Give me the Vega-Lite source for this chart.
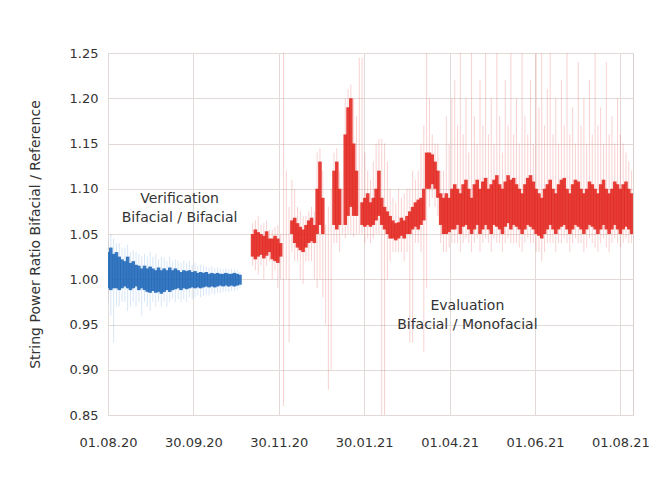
{
"$schema":"https://vega.github.io/schema/vega-lite/v6.json",
"width":525,"height":362,
"autosize":{"type":"none"},
"padding":{"left":108,"top":53,"right":32,"bottom":64},
"background":"white",
"config":{"view":{"stroke":"#d8d0cc","strokeWidth":1},"font":"DejaVu Sans",
 "axisX":{"format":"%d.%m.%y","formatType":"utc","labelOverlap":false,"labelFlush":false,"labelBound":false,"grid":true,"gridColor":"#e2dad6","domain":false,"ticks":false,"labelPadding":21,"labelFontSize":13,"labelColor":"#333333","labelFont":"DejaVu Sans"},
 "axisY":{"format":".2f","labelOverlap":false,"grid":true,"gridColor":"#e2dad6","domain":false,"ticks":false,"labelPadding":10,"labelFontSize":13,"labelColor":"#333333","labelFont":"DejaVu Sans","titleFontSize":14,"titleFontWeight":"normal","titleColor":"#333333","titleFont":"DejaVu Sans","titlePadding":27}
},
"datasets":{
"pts":[
{"d":"2020-08-01","s":"Verification","lo":0.99,"hi":1.03,"slo":0.975,"shi":1.045},
{"d":"2020-08-03","s":"Verification","lo":0.988,"hi":1.035,"slo":0.96,"shi":1.05},
{"d":"2020-08-05","s":"Verification","lo":0.99,"hi":1.028,"slo":0.93,"shi":1.045},
{"d":"2020-08-07","s":"Verification","lo":0.99,"hi":1.03,"slo":0.97,"shi":1.04},
{"d":"2020-08-09","s":"Verification","lo":0.988,"hi":1.025,"slo":0.97,"shi":1.04},
{"d":"2020-08-11","s":"Verification","lo":0.99,"hi":1.022,"slo":0.975,"shi":1.035},
{"d":"2020-08-13","s":"Verification","lo":0.992,"hi":1.02,"slo":0.975,"shi":1.035},
{"d":"2020-08-15","s":"Verification","lo":0.99,"hi":1.025,"slo":0.965,"shi":1.038},
{"d":"2020-08-17","s":"Verification","lo":0.988,"hi":1.018,"slo":0.97,"shi":1.03},
{"d":"2020-08-19","s":"Verification","lo":0.99,"hi":1.02,"slo":0.975,"shi":1.032},
{"d":"2020-08-21","s":"Verification","lo":0.992,"hi":1.016,"slo":0.97,"shi":1.03},
{"d":"2020-08-23","s":"Verification","lo":0.988,"hi":1.015,"slo":0.975,"shi":1.028},
{"d":"2020-08-25","s":"Verification","lo":0.99,"hi":1.012,"slo":0.96,"shi":1.025},
{"d":"2020-08-27","s":"Verification","lo":0.988,"hi":1.015,"slo":0.975,"shi":1.028},
{"d":"2020-08-29","s":"Verification","lo":0.986,"hi":1.012,"slo":0.97,"shi":1.025},
{"d":"2020-08-31","s":"Verification","lo":0.985,"hi":1.014,"slo":0.965,"shi":1.03},
{"d":"2020-09-02","s":"Verification","lo":0.987,"hi":1.012,"slo":0.975,"shi":1.025},
{"d":"2020-09-04","s":"Verification","lo":0.985,"hi":1.01,"slo":0.97,"shi":1.028},
{"d":"2020-09-06","s":"Verification","lo":0.986,"hi":1.013,"slo":0.975,"shi":1.022},
{"d":"2020-09-08","s":"Verification","lo":0.984,"hi":1.01,"slo":0.97,"shi":1.025},
{"d":"2020-09-10","s":"Verification","lo":0.986,"hi":1.012,"slo":0.975,"shi":1.024},
{"d":"2020-09-12","s":"Verification","lo":0.988,"hi":1.01,"slo":0.97,"shi":1.02},
{"d":"2020-09-14","s":"Verification","lo":0.986,"hi":1.013,"slo":0.975,"shi":1.025},
{"d":"2020-09-16","s":"Verification","lo":0.988,"hi":1.01,"slo":0.978,"shi":1.02},
{"d":"2020-09-18","s":"Verification","lo":0.989,"hi":1.012,"slo":0.975,"shi":1.022},
{"d":"2020-09-20","s":"Verification","lo":0.99,"hi":1.01,"slo":0.978,"shi":1.02},
{"d":"2020-09-22","s":"Verification","lo":0.988,"hi":1.008,"slo":0.975,"shi":1.018},
{"d":"2020-09-24","s":"Verification","lo":0.99,"hi":1.01,"slo":0.978,"shi":1.02},
{"d":"2020-09-26","s":"Verification","lo":0.989,"hi":1.009,"slo":0.975,"shi":1.018},
{"d":"2020-09-28","s":"Verification","lo":0.99,"hi":1.01,"slo":0.98,"shi":1.02},
{"d":"2020-09-30","s":"Verification","lo":0.991,"hi":1.008,"slo":0.978,"shi":1.016},
{"d":"2020-10-02","s":"Verification","lo":0.99,"hi":1.009,"slo":0.98,"shi":1.018},
{"d":"2020-10-04","s":"Verification","lo":0.991,"hi":1.007,"slo":0.982,"shi":1.015},
{"d":"2020-10-06","s":"Verification","lo":0.99,"hi":1.008,"slo":0.98,"shi":1.016},
{"d":"2020-10-08","s":"Verification","lo":0.991,"hi":1.007,"slo":0.982,"shi":1.015},
{"d":"2020-10-10","s":"Verification","lo":0.992,"hi":1.008,"slo":0.983,"shi":1.014},
{"d":"2020-10-12","s":"Verification","lo":0.991,"hi":1.006,"slo":0.982,"shi":1.013},
{"d":"2020-10-14","s":"Verification","lo":0.992,"hi":1.007,"slo":0.984,"shi":1.014},
{"d":"2020-10-16","s":"Verification","lo":0.991,"hi":1.006,"slo":0.983,"shi":1.012},
{"d":"2020-10-18","s":"Verification","lo":0.992,"hi":1.007,"slo":0.985,"shi":1.013},
{"d":"2020-10-20","s":"Verification","lo":0.993,"hi":1.006,"slo":0.985,"shi":1.012},
{"d":"2020-10-22","s":"Verification","lo":0.992,"hi":1.006,"slo":0.986,"shi":1.011},
{"d":"2020-10-24","s":"Verification","lo":0.993,"hi":1.007,"slo":0.986,"shi":1.012},
{"d":"2020-10-26","s":"Verification","lo":0.992,"hi":1.006,"slo":0.986,"shi":1.011},
{"d":"2020-10-28","s":"Verification","lo":0.993,"hi":1.006,"slo":0.987,"shi":1.011},
{"d":"2020-10-30","s":"Verification","lo":0.992,"hi":1.007,"slo":0.987,"shi":1.011},
{"d":"2020-11-01","s":"Verification","lo":0.993,"hi":1.006,"slo":0.988,"shi":1.01},
{"d":"2020-11-03","s":"Verification","lo":0.994,"hi":1.005,"slo":0.99,"shi":1.008},
{"d":"2020-11-12","s":"Evaluation","lo":1.025,"hi":1.05,"slo":1.015,"shi":1.062},
{"d":"2020-11-14","s":"Evaluation","lo":1.022,"hi":1.055,"slo":1.01,"shi":1.065},
{"d":"2020-11-16","s":"Evaluation","lo":1.025,"hi":1.052,"slo":1.005,"shi":1.07},
{"d":"2020-11-18","s":"Evaluation","lo":1.027,"hi":1.05,"slo":1.015,"shi":1.06},
{"d":"2020-11-20","s":"Evaluation","lo":1.023,"hi":1.048,"slo":1.0,"shi":1.062},
{"d":"2020-11-22","s":"Evaluation","lo":1.026,"hi":1.053,"slo":1.015,"shi":1.065},
{"d":"2020-11-24","s":"Evaluation","lo":1.03,"hi":1.045,"slo":1.02,"shi":1.055},
{"d":"2020-11-26","s":"Evaluation","lo":1.022,"hi":1.045,"slo":1.0,"shi":1.055},
{"d":"2020-11-28","s":"Evaluation","lo":1.02,"hi":1.048,"slo":1.01,"shi":1.058},
{"d":"2020-11-30","s":"Evaluation","lo":1.018,"hi":1.045,"slo":0.99,"shi":1.06},
{"d":"2020-12-02","s":"Evaluation","lo":1.025,"hi":1.04,"slo":1.0,"shi":1.05},
{"d":"2020-12-04","s":"Evaluation","lo":null,"hi":null,"slo":0.86,"shi":1.25},
{"d":"2020-12-06","s":"Evaluation","lo":null,"hi":null,"slo":1.0,"shi":1.12},
{"d":"2020-12-08","s":"Evaluation","lo":null,"hi":null,"slo":0.93,"shi":1.08},
{"d":"2020-12-10","s":"Evaluation","lo":1.05,"hi":1.065,"slo":1.03,"shi":1.11},
{"d":"2020-12-12","s":"Evaluation","lo":1.04,"hi":1.068,"slo":1.02,"shi":1.1},
{"d":"2020-12-14","s":"Evaluation","lo":1.035,"hi":1.062,"slo":1.02,"shi":1.08},
{"d":"2020-12-16","s":"Evaluation","lo":1.032,"hi":1.058,"slo":1.0,"shi":1.075},
{"d":"2020-12-18","s":"Evaluation","lo":1.03,"hi":1.055,"slo":0.995,"shi":1.07},
{"d":"2020-12-20","s":"Evaluation","lo":1.035,"hi":1.06,"slo":1.02,"shi":1.07},
{"d":"2020-12-22","s":"Evaluation","lo":1.04,"hi":1.065,"slo":1.02,"shi":1.075},
{"d":"2020-12-24","s":"Evaluation","lo":1.042,"hi":1.068,"slo":1.02,"shi":1.08},
{"d":"2020-12-26","s":"Evaluation","lo":1.04,"hi":1.06,"slo":1.0,"shi":1.075},
{"d":"2020-12-28","s":"Evaluation","lo":1.05,"hi":1.1,"slo":0.99,"shi":1.14},
{"d":"2020-12-30","s":"Evaluation","lo":1.06,"hi":1.13,"slo":1.0,"shi":1.145},
{"d":"2021-01-01","s":"Evaluation","lo":1.05,"hi":1.09,"slo":0.98,"shi":1.12},
{"d":"2021-01-03","s":"Evaluation","lo":null,"hi":null,"slo":0.95,"shi":1.06},
{"d":"2021-01-05","s":"Evaluation","lo":null,"hi":null,"slo":0.878,"shi":1.08},
{"d":"2021-01-07","s":"Evaluation","lo":null,"hi":null,"slo":0.9,"shi":1.1},
{"d":"2021-01-09","s":"Evaluation","lo":1.06,"hi":1.12,"slo":1.04,"shi":1.14},
{"d":"2021-01-11","s":"Evaluation","lo":1.055,"hi":1.13,"slo":1.04,"shi":1.145},
{"d":"2021-01-13","s":"Evaluation","lo":1.06,"hi":1.1,"slo":1.03,"shi":1.12},
{"d":"2021-01-15","s":"Evaluation","lo":null,"hi":null,"slo":1.05,"shi":1.1},
{"d":"2021-01-17","s":"Evaluation","lo":1.06,"hi":1.16,"slo":1.045,"shi":1.2},
{"d":"2021-01-19","s":"Evaluation","lo":1.07,"hi":1.19,"slo":1.05,"shi":1.21},
{"d":"2021-01-21","s":"Evaluation","lo":1.08,"hi":1.2,"slo":1.05,"shi":1.215},
{"d":"2021-01-23","s":"Evaluation","lo":1.07,"hi":1.15,"slo":1.047,"shi":1.2},
{"d":"2021-01-25","s":"Evaluation","lo":1.07,"hi":1.12,"slo":1.05,"shi":1.18},
{"d":"2021-01-27","s":"Evaluation","lo":null,"hi":null,"slo":1.05,"shi":1.245},
{"d":"2021-01-29","s":"Evaluation","lo":1.06,"hi":1.085,"slo":1.05,"shi":1.245},
{"d":"2021-01-31","s":"Evaluation","lo":1.058,"hi":1.09,"slo":1.04,"shi":1.14},
{"d":"2021-02-02","s":"Evaluation","lo":1.06,"hi":1.095,"slo":1.045,"shi":1.12},
{"d":"2021-02-04","s":"Evaluation","lo":1.058,"hi":1.085,"slo":1.04,"shi":1.11},
{"d":"2021-02-06","s":"Evaluation","lo":1.06,"hi":1.09,"slo":1.045,"shi":1.13},
{"d":"2021-02-08","s":"Evaluation","lo":1.065,"hi":1.1,"slo":1.05,"shi":1.15},
{"d":"2021-02-10","s":"Evaluation","lo":1.07,"hi":1.12,"slo":1.05,"shi":1.155},
{"d":"2021-02-12","s":"Evaluation","lo":1.06,"hi":1.09,"slo":0.85,"shi":1.155},
{"d":"2021-02-14","s":"Evaluation","lo":1.055,"hi":1.08,"slo":0.85,"shi":1.15},
{"d":"2021-02-16","s":"Evaluation","lo":1.05,"hi":1.075,"slo":1.0,"shi":1.13},
{"d":"2021-02-18","s":"Evaluation","lo":1.045,"hi":1.07,"slo":1.02,"shi":1.1},
{"d":"2021-02-20","s":"Evaluation","lo":1.045,"hi":1.065,"slo":1.03,"shi":1.09},
{"d":"2021-02-22","s":"Evaluation","lo":1.043,"hi":1.062,"slo":1.03,"shi":1.085},
{"d":"2021-02-24","s":"Evaluation","lo":1.045,"hi":1.063,"slo":1.03,"shi":1.1},
{"d":"2021-02-26","s":"Evaluation","lo":1.048,"hi":1.068,"slo":1.03,"shi":1.09},
{"d":"2021-02-28","s":"Evaluation","lo":1.045,"hi":1.065,"slo":1.02,"shi":1.095},
{"d":"2021-03-02","s":"Evaluation","lo":1.05,"hi":1.07,"slo":1.03,"shi":1.1},
{"d":"2021-03-04","s":"Evaluation","lo":1.05,"hi":1.075,"slo":0.93,"shi":1.1},
{"d":"2021-03-06","s":"Evaluation","lo":1.055,"hi":1.08,"slo":0.93,"shi":1.12},
{"d":"2021-03-08","s":"Evaluation","lo":1.058,"hi":1.085,"slo":1.04,"shi":1.11},
{"d":"2021-03-10","s":"Evaluation","lo":1.055,"hi":1.088,"slo":1.04,"shi":1.12},
{"d":"2021-03-12","s":"Evaluation","lo":1.06,"hi":1.09,"slo":1.03,"shi":1.15},
{"d":"2021-03-14","s":"Evaluation","lo":1.065,"hi":1.1,"slo":0.92,"shi":1.17},
{"d":"2021-03-16","s":"Evaluation","lo":1.1,"hi":1.14,"slo":0.99,"shi":1.25},
{"d":"2021-03-18","s":"Evaluation","lo":1.1,"hi":1.14,"slo":1.08,"shi":1.2},
{"d":"2021-03-20","s":"Evaluation","lo":1.105,"hi":1.138,"slo":1.09,"shi":1.16},
{"d":"2021-03-22","s":"Evaluation","lo":1.1,"hi":1.13,"slo":1.08,"shi":1.15},
{"d":"2021-03-24","s":"Evaluation","lo":1.09,"hi":1.12,"slo":1.07,"shi":1.15},
{"d":"2021-03-26","s":"Evaluation","lo":1.06,"hi":1.095,"slo":1.04,"shi":1.12},
{"d":"2021-03-28","s":"Evaluation","lo":1.05,"hi":1.09,"slo":1.03,"shi":1.12},
{"d":"2021-03-30","s":"Evaluation","lo":1.05,"hi":1.095,"slo":1.03,"shi":1.18},
{"d":"2021-04-01","s":"Evaluation","lo":1.052,"hi":1.09,"slo":1.035,"shi":1.15},
{"d":"2021-04-03","s":"Evaluation","lo":1.055,"hi":1.1,"slo":1.04,"shi":1.2},
{"d":"2021-04-05","s":"Evaluation","lo":1.055,"hi":1.105,"slo":1.04,"shi":1.22},
{"d":"2021-04-07","s":"Evaluation","lo":1.06,"hi":1.1,"slo":1.04,"shi":1.17},
{"d":"2021-04-09","s":"Evaluation","lo":1.05,"hi":1.095,"slo":1.03,"shi":1.25},
{"d":"2021-04-11","s":"Evaluation","lo":1.058,"hi":1.105,"slo":1.04,"shi":1.16},
{"d":"2021-04-13","s":"Evaluation","lo":1.06,"hi":1.11,"slo":1.045,"shi":1.2},
{"d":"2021-04-15","s":"Evaluation","lo":1.055,"hi":1.1,"slo":1.04,"shi":1.14},
{"d":"2021-04-17","s":"Evaluation","lo":1.05,"hi":1.09,"slo":1.03,"shi":1.25},
{"d":"2021-04-19","s":"Evaluation","lo":1.055,"hi":1.105,"slo":1.04,"shi":1.18},
{"d":"2021-04-21","s":"Evaluation","lo":1.06,"hi":1.11,"slo":1.045,"shi":1.15},
{"d":"2021-04-23","s":"Evaluation","lo":1.05,"hi":1.1,"slo":1.03,"shi":1.22},
{"d":"2021-04-25","s":"Evaluation","lo":1.055,"hi":1.108,"slo":1.04,"shi":1.17},
{"d":"2021-04-27","s":"Evaluation","lo":1.06,"hi":1.112,"slo":1.045,"shi":1.25},
{"d":"2021-04-29","s":"Evaluation","lo":1.055,"hi":1.1,"slo":1.04,"shi":1.16},
{"d":"2021-05-01","s":"Evaluation","lo":1.05,"hi":1.105,"slo":1.03,"shi":1.2},
{"d":"2021-05-03","s":"Evaluation","lo":1.06,"hi":1.11,"slo":1.045,"shi":1.15},
{"d":"2021-05-05","s":"Evaluation","lo":1.058,"hi":1.115,"slo":1.04,"shi":1.25},
{"d":"2021-05-07","s":"Evaluation","lo":1.055,"hi":1.105,"slo":1.04,"shi":1.18},
{"d":"2021-05-09","s":"Evaluation","lo":1.05,"hi":1.1,"slo":1.03,"shi":1.14},
{"d":"2021-05-11","s":"Evaluation","lo":1.058,"hi":1.108,"slo":1.04,"shi":1.22},
{"d":"2021-05-13","s":"Evaluation","lo":1.062,"hi":1.115,"slo":1.045,"shi":1.17},
{"d":"2021-05-15","s":"Evaluation","lo":1.055,"hi":1.11,"slo":1.04,"shi":1.25},
{"d":"2021-05-17","s":"Evaluation","lo":1.06,"hi":1.112,"slo":1.04,"shi":1.16},
{"d":"2021-05-19","s":"Evaluation","lo":1.058,"hi":1.105,"slo":1.04,"shi":1.2},
{"d":"2021-05-21","s":"Evaluation","lo":1.055,"hi":1.1,"slo":1.035,"shi":1.15},
{"d":"2021-05-23","s":"Evaluation","lo":1.05,"hi":1.095,"slo":1.03,"shi":1.25},
{"d":"2021-05-25","s":"Evaluation","lo":1.055,"hi":1.105,"slo":1.04,"shi":1.18},
{"d":"2021-05-27","s":"Evaluation","lo":1.06,"hi":1.112,"slo":1.045,"shi":1.16},
{"d":"2021-05-29","s":"Evaluation","lo":1.058,"hi":1.115,"slo":1.04,"shi":1.22},
{"d":"2021-05-31","s":"Evaluation","lo":1.055,"hi":1.108,"slo":1.04,"shi":1.15},
{"d":"2021-06-02","s":"Evaluation","lo":1.05,"hi":1.1,"slo":1.03,"shi":1.25},
{"d":"2021-06-04","s":"Evaluation","lo":1.048,"hi":1.095,"slo":1.03,"shi":1.19},
{"d":"2021-06-06","s":"Evaluation","lo":1.045,"hi":1.09,"slo":1.02,"shi":1.25},
{"d":"2021-06-08","s":"Evaluation","lo":1.05,"hi":1.1,"slo":1.03,"shi":1.17},
{"d":"2021-06-10","s":"Evaluation","lo":1.055,"hi":1.105,"slo":1.04,"shi":1.21},
{"d":"2021-06-12","s":"Evaluation","lo":1.06,"hi":1.11,"slo":1.04,"shi":1.25},
{"d":"2021-06-14","s":"Evaluation","lo":1.055,"hi":1.1,"slo":1.04,"shi":1.16},
{"d":"2021-06-16","s":"Evaluation","lo":1.05,"hi":1.095,"slo":1.03,"shi":1.2},
{"d":"2021-06-18","s":"Evaluation","lo":1.055,"hi":1.105,"slo":1.04,"shi":1.15},
{"d":"2021-06-20","s":"Evaluation","lo":1.058,"hi":1.11,"slo":1.04,"shi":1.22},
{"d":"2021-06-22","s":"Evaluation","lo":1.06,"hi":1.112,"slo":1.045,"shi":1.17},
{"d":"2021-06-24","s":"Evaluation","lo":1.055,"hi":1.1,"slo":1.04,"shi":1.25},
{"d":"2021-06-26","s":"Evaluation","lo":1.05,"hi":1.095,"slo":1.03,"shi":1.16},
{"d":"2021-06-28","s":"Evaluation","lo":1.055,"hi":1.105,"slo":1.04,"shi":1.19},
{"d":"2021-06-30","s":"Evaluation","lo":1.06,"hi":1.11,"slo":1.045,"shi":1.15},
{"d":"2021-07-02","s":"Evaluation","lo":1.058,"hi":1.108,"slo":1.04,"shi":1.24},
{"d":"2021-07-04","s":"Evaluation","lo":1.055,"hi":1.1,"slo":1.04,"shi":1.17},
{"d":"2021-07-06","s":"Evaluation","lo":1.05,"hi":1.095,"slo":1.03,"shi":1.2},
{"d":"2021-07-08","s":"Evaluation","lo":1.055,"hi":1.1,"slo":1.035,"shi":1.15},
{"d":"2021-07-10","s":"Evaluation","lo":1.06,"hi":1.108,"slo":1.045,"shi":1.22},
{"d":"2021-07-12","s":"Evaluation","lo":1.058,"hi":1.105,"slo":1.04,"shi":1.16},
{"d":"2021-07-14","s":"Evaluation","lo":1.055,"hi":1.1,"slo":1.035,"shi":1.25},
{"d":"2021-07-16","s":"Evaluation","lo":1.05,"hi":1.095,"slo":1.03,"shi":1.17},
{"d":"2021-07-18","s":"Evaluation","lo":1.055,"hi":1.105,"slo":1.04,"shi":1.19},
{"d":"2021-07-20","s":"Evaluation","lo":1.06,"hi":1.11,"slo":1.045,"shi":1.15},
{"d":"2021-07-22","s":"Evaluation","lo":1.055,"hi":1.1,"slo":1.035,"shi":1.24},
{"d":"2021-07-24","s":"Evaluation","lo":1.05,"hi":1.095,"slo":1.03,"shi":1.16},
{"d":"2021-07-26","s":"Evaluation","lo":1.055,"hi":1.1,"slo":1.04,"shi":1.18},
{"d":"2021-07-28","s":"Evaluation","lo":1.06,"hi":1.108,"slo":1.045,"shi":1.15},
{"d":"2021-07-30","s":"Evaluation","lo":1.055,"hi":1.105,"slo":1.04,"shi":1.2},
{"d":"2021-08-01","s":"Evaluation","lo":1.05,"hi":1.1,"slo":1.035,"shi":1.16},
{"d":"2021-08-03","s":"Evaluation","lo":1.055,"hi":1.105,"slo":1.04,"shi":1.15},
{"d":"2021-08-05","s":"Evaluation","lo":1.058,"hi":1.108,"slo":1.045,"shi":1.14},
{"d":"2021-08-07","s":"Evaluation","lo":1.055,"hi":1.1,"slo":1.04,"shi":1.13},
{"d":"2021-08-09","s":"Evaluation","lo":1.05,"hi":1.095,"slo":1.04,"shi":1.12}
],
"notes":[
{"d":"2020-09-21","v":1.0887,"t":"Verification"},
{"d":"2020-09-21","v":1.0677,"t":"Bifacial / Bifacial"},
{"d":"2021-04-14","v":0.9705,"t":"Evaluation"},
{"d":"2021-04-14","v":0.9494,"t":"Bifacial / Monofacial"}
]
},
"layer":[
{"data":{"name":"pts"},
 "mark":{"type":"rule","strokeWidth":1,"opacity":0.22,"clip":true},
 "encoding":{
  "x":{"field":"d","type":"temporal","title":null,
       "scale":{"type":"utc","domain":[{"year":2020,"month":8,"date":1,"utc":true},{"year":2021,"month":8,"date":10,"utc":true}]},
       "axis":{"values":[{"year":2020,"month":8,"date":1,"utc":true},{"year":2020,"month":9,"date":30,"hours":20,"utc":true},{"year":2020,"month":11,"date":30,"hours":16,"utc":true},{"year":2021,"month":1,"date":30,"hours":12,"utc":true},{"year":2021,"month":4,"date":1,"hours":8,"utc":true},{"year":2021,"month":6,"date":1,"hours":4,"utc":true},{"year":2021,"month":8,"date":1,"utc":true}],
               "format":"%d.%m.%y","formatType":"utc"}},
  "y":{"field":"slo","type":"quantitative","title":"String Power Ratio Bifacial / Reference",
       "scale":{"domain":[0.85,1.25],"nice":false,"zero":false},
       "axis":{"values":[0.85,0.9,0.95,1.0,1.05,1.1,1.15,1.2,1.25],"format":".2f"}},
  "y2":{"field":"shi"},
  "color":{"field":"s","type":"nominal","legend":null,"scale":{"domain":["Verification","Evaluation"],"range":["#4a8fd4","#e0332c"]}}
 }},
{"data":{"name":"pts"},
 "mark":{"type":"rule","strokeWidth":3.6,"opacity":0.88,"clip":true},
 "encoding":{
  "x":{"field":"d","type":"temporal","title":null,"axis":{"format":"%d.%m.%y","formatType":"utc"}},
  "y":{"field":"lo","type":"quantitative","title":"String Power Ratio Bifacial / Reference","axis":{"format":".2f"}},
  "y2":{"field":"hi"},
  "color":{"field":"s","type":"nominal","legend":null,"scale":{"domain":["Verification","Evaluation"],"range":["#1f68b8","#e3261f"]}}
 }},
{"data":{"name":"notes"},
 "mark":{"type":"text","font":"DejaVu Sans","fontSize":14,"color":"#333333","align":"center","baseline":"middle"},
 "encoding":{
  "x":{"field":"d","type":"temporal","title":null,"axis":{"format":"%d.%m.%y","formatType":"utc"}},
  "y":{"field":"v","type":"quantitative","title":"String Power Ratio Bifacial / Reference","axis":{"format":".2f"}},
  "text":{"field":"t"}
 }}
],
"resolve":{"scale":{"color":"independent"}}
}
